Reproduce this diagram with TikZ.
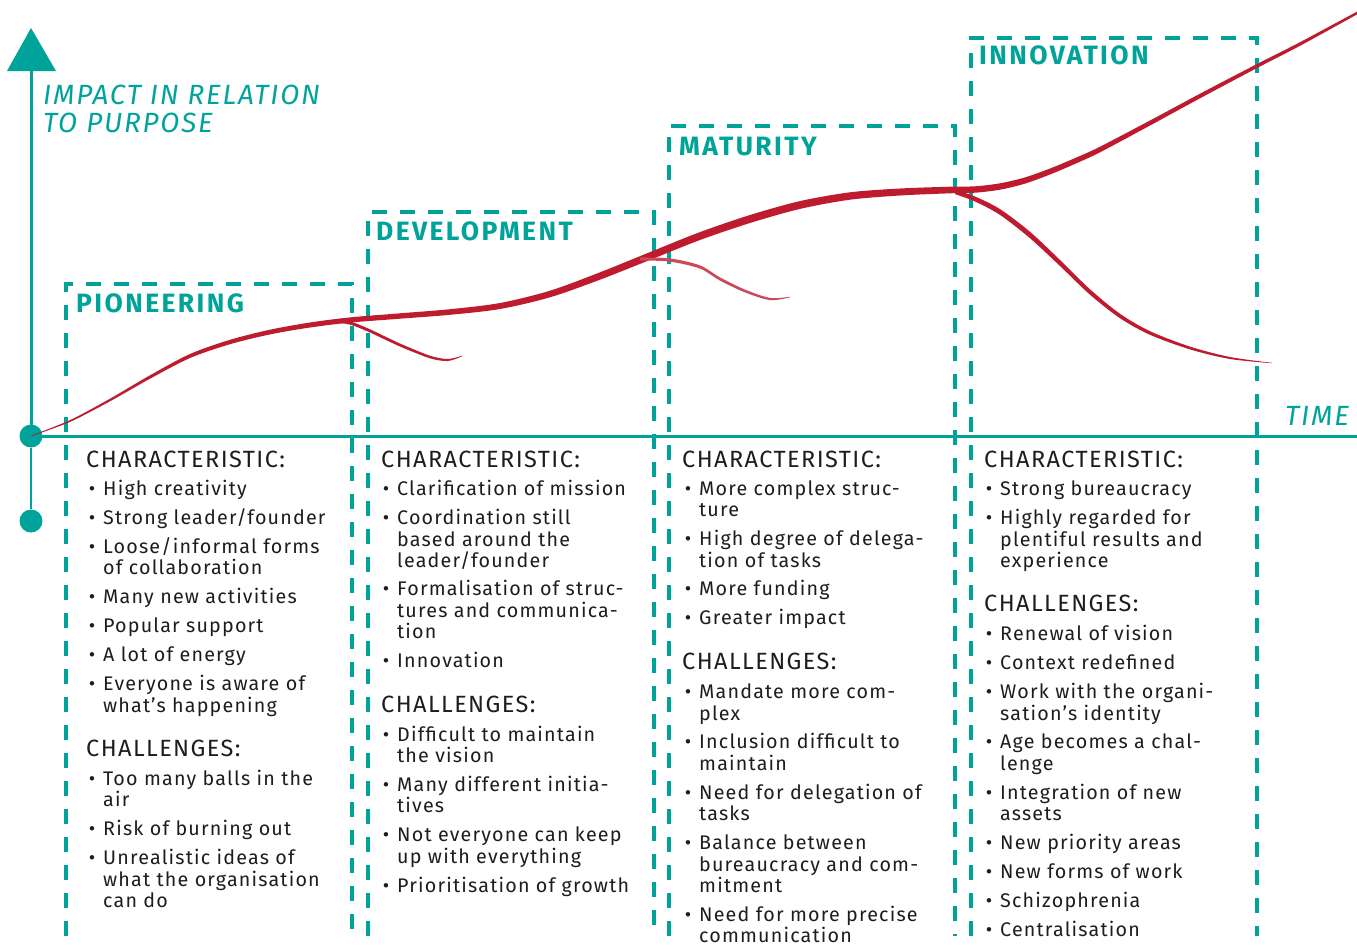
\documentclass[tikz,border=0pt]{standalone}
\usepackage{fontspec}
\setmainfont{Fira Sans}[LetterSpace=6]
\definecolor{teal1}{HTML}{00A39A}
\definecolor{red1}{HTML}{BE1B2E}
\definecolor{ink}{HTML}{1D1D1B}
\tikzset{
  txt/.style={anchor=base west, inner sep=0pt, text=ink, font=\fontsize{19.7}{21}\selectfont},
  bul/.style={anchor=base, inner sep=0pt, text=ink, font=\fontsize{19.7}{21}\selectfont},
  hd/.style={anchor=base west, inner sep=0pt, text=ink, font=\fontsize{23.5}{26}\selectfont},
  ttl/.style={anchor=base west, inner sep=0pt, text=teal1, font=\fontsize{26.5}{28}\selectfont\bfseries\addfontfeatures{LetterSpace=9}},
  axlab/.style={anchor=base west, inner sep=0pt, text=teal1, font=\fontsize{27.8}{28}\selectfont\itshape\addfontfeatures{LetterSpace=6.5}},
  dbox/.style={draw=teal1, line width=4pt, dash pattern=on 15pt off 13pt},
  axis/.style={draw=teal1, line width=3pt},
}
\newcommand\bl[4]{\node[bul] (#1b) at ({#2-11},#3) {\textbullet}; \node[txt] (#1) at (#2,#3) {#4};}
\newcommand\cl[4]{\node[txt] (#1) at (#2,#3) {#4};}
\begin{document}
\begin{tikzpicture}[x=1pt,y=-1pt]
\useasboundingbox (0,0) rectangle (1357,948);
% axes
\coordinate (arrtip) at (31,28);
\coordinate (arrbase) at (31,71);
\coordinate (xend) at (1357,436);
\node[circle, fill=teal1, minimum size=23pt, inner sep=0pt] (o) at (31,436) {};
\node[circle, fill=teal1, minimum size=23pt, inner sep=0pt] (o2) at (31,521) {};
\draw[axis] (o.center) -- (xend);
\draw[axis] (o.center) -- (arrbase);
\draw[draw=teal1, line width=2pt] (o) -- (o2);
\fill[teal1] (arrtip) -- (7,71) -- (56,71) -- cycle;
\node[axlab] (ylab1) at (43,104) {IMPACT IN RELATION};
\node[axlab] (ylab2) at (43,132) {TO PURPOSE};
\node[axlab] (tlab) at (1285,425) {TIME};
% dashed boxes
\draw[dbox] (66,936) -- (66,284) -- (352,284) -- (352,936);
\draw[dbox] (368,936) -- (368,212) -- (654,212) -- (654,936);
\draw[dbox] (669,936) -- (669,126) -- (955,126) -- (955,936);
\draw[dbox] (971,936) -- (971,38) -- (1257,38) -- (1257,936);
\node[ttl] (t1) at (76,312) {PIONEERING};
\node[ttl] (t2) at (376,240) {DEVELOPMENT};
\node[ttl] (t3) at (679,155) {MATURITY};
\node[ttl] (t4) at (979,64) {INNOVATION};
% main curve (tapered)
\fill[red1] plot[smooth] coordinates {(31,435.7) (70,420.1) (110,398.7) (150,375.3) (190,354) (230,339.8) (270,329.7) (310,322.5) (350,317.4) (400,313.3) (450,309.2) (500,303) (550,290.7) (600,272.3) (650,252.1) (700,232.1) (750,215) (800,201.1) (850,192.3) (900,188.5) (950,186.7) (975,186.3) (1000,183.3) (1025,177.4) (1050,168.5) (1075,158.1) (1100,146.7) (1150,120.5) (1200,93.7) (1257,64) (1300,42.2) (1357,11.6)}
 -- plot[smooth] coordinates {(1357,14.4) (1300,45.8) (1257,68) (1200,98.3) (1150,125.5) (1100,152.3) (1075,163.9) (1050,174.5) (1025,183.6) (1000,189.7) (975,192.7) (950,193.3) (900,195.5) (850,199.7) (800,208.9) (750,223) (700,240) (650,259.9) (600,279.7) (550,297.3) (500,309) (450,314.8) (400,318.7) (350,322.6) (310,327.5) (270,334.4) (230,344.2) (190,358) (150,378.7) (110,401.3) (70,421.9) (31,436.3)} -- cycle;
% branch 1
\fill[red1] plot[smooth] coordinates {(335,319.5) (350,321.4) (368,328.4) (400,343.5) (430,355.7) (448,359) (462,355.7)}
 -- plot[smooth] coordinates {(462,356.3) (448,361) (430,358.3) (400,346.5) (368,331.6) (350,324.6) (335,322.5)} -- cycle;
% branch 2
\fill[red1!80] plot[smooth] coordinates {(640,257.5) (670,258.4) (700,265.4) (720,277.4) (745,289.6) (770,297.9) (790,296.7)}
 -- plot[smooth] coordinates {(790,297.3) (770,300.1) (745,292.4) (720,280.6) (700,268.6) (670,261.6) (640,260.5)} -- cycle;
% branch 3
\fill[red1] plot[smooth] coordinates {(955,189.9) (975,196.5) (1000,209.1) (1030,231.8) (1060,260) (1090,289.3) (1120,313.8) (1150,331.2) (1190,346.6) (1230,357) (1272,362.8)}
 -- plot[smooth] coordinates {(1272,363.2) (1230,359) (1190,349.4) (1150,334.8) (1120,318.2) (1090,294.7) (1060,266) (1030,238.2) (1000,214.9) (975,201.5) (955,194.1)} -- cycle;
% column 1
\node[hd] (h1a) at (86,467) {CHARACTERISTIC:};
\bl{a1}{103}{495}{High creativity}
\bl{a2}{103}{524}{Strong leader/founder}
\bl{a3}{103}{553}{Loose/informal forms}
\cl{a3c}{103}{574}{of collaboration}
\bl{a4}{103}{603}{Many new activities}
\bl{a5}{103}{632}{Popular support}
\bl{a6}{103}{661}{A lot of energy}
\bl{a7}{103}{690}{Everyone is aware of}
\cl{a7c}{103}{712}{what's happening}
\node[hd] (h1b) at (86,756) {CHALLENGES:};
\bl{a8}{103}{785}{Too many balls in the}
\cl{a8c}{103}{806}{air}
\bl{a9}{103}{835}{Risk of burning out}
\bl{a10}{103}{864}{Unrealistic ideas of}
\cl{a10c}{103}{886}{what the organisation}
\cl{a10d}{103}{907}{can do}
% column 2
\node[hd] (h2a) at (381,467) {CHARACTERISTIC:};
\bl{b1}{397}{495}{Clarification of mission}
\bl{b2}{397}{524}{Coordination still}
\cl{b2c}{397}{546}{based around the}
\cl{b2d}{397}{567}{leader/founder}
\bl{b3}{397}{595}{Formalisation of struc-}
\cl{b3c}{397}{617}{tures and communica-}
\cl{b3d}{397}{638}{tion}
\bl{b4}{397}{667}{Innovation}
\node[hd] (h2b) at (381,712) {CHALLENGES:};
\bl{b5}{397}{741}{Difficult to maintain}
\cl{b5c}{397}{762}{the vision}
\bl{b6}{397}{791}{Many different initia-}
\cl{b6c}{397}{812}{tives}
\bl{b7}{397}{841}{Not everyone can keep}
\cl{b7c}{397}{863}{up with everything}
\bl{b8}{397}{892}{Prioritisation of growth}
% column 3
\node[hd] (h3a) at (682,467) {CHARACTERISTIC:};
\bl{c1}{699}{495}{More complex struc-}
\cl{c1c}{699}{516}{ture}
\bl{c2}{699}{545}{High degree of delega-}
\cl{c2c}{699}{567}{tion of tasks}
\bl{c3}{699}{595}{More funding}
\bl{c4}{699}{624}{Greater impact}
\node[hd] (h3b) at (682,669) {CHALLENGES:};
\bl{c5}{699}{698}{Mandate more com-}
\cl{c5c}{699}{720}{plex}
\bl{c6}{699}{748}{Inclusion difficult to}
\cl{c6c}{699}{770}{maintain}
\bl{c7}{699}{799}{Need for delegation of}
\cl{c7c}{699}{820}{tasks}
\bl{c8}{699}{849}{Balance between}
\cl{c8c}{699}{871}{bureaucracy and com-}
\cl{c8d}{699}{892}{mitment}
\bl{c9}{699}{921}{Need for more precise}
\cl{c9c}{699}{942}{communication}
% column 4
\node[hd] (h4a) at (984,467) {CHARACTERISTIC:};
\bl{d1}{1000}{495}{Strong bureaucracy}
\bl{d2}{1000}{524}{Highly regarded for}
\cl{d2c}{1000}{546}{plentiful results and}
\cl{d2d}{1000}{567}{experience}
\node[hd] (h4b) at (984,611) {CHALLENGES:};
\bl{d3}{1000}{640}{Renewal of vision}
\bl{d4}{1000}{669}{Context redefined}
\bl{d5}{1000}{698}{Work with the organi-}
\cl{d5c}{1000}{720}{sation's identity}
\bl{d6}{1000}{748}{Age becomes a chal-}
\cl{d6c}{1000}{770}{lenge}
\bl{d7}{1000}{799}{Integration of new}
\cl{d7c}{1000}{820}{assets}
\bl{d8}{1000}{849}{New priority areas}
\bl{d9}{1000}{878}{New forms of work}
\bl{d10}{1000}{907}{Schizophrenia}
\bl{d11}{1000}{936}{Centralisation}
\end{tikzpicture}
\end{document}
